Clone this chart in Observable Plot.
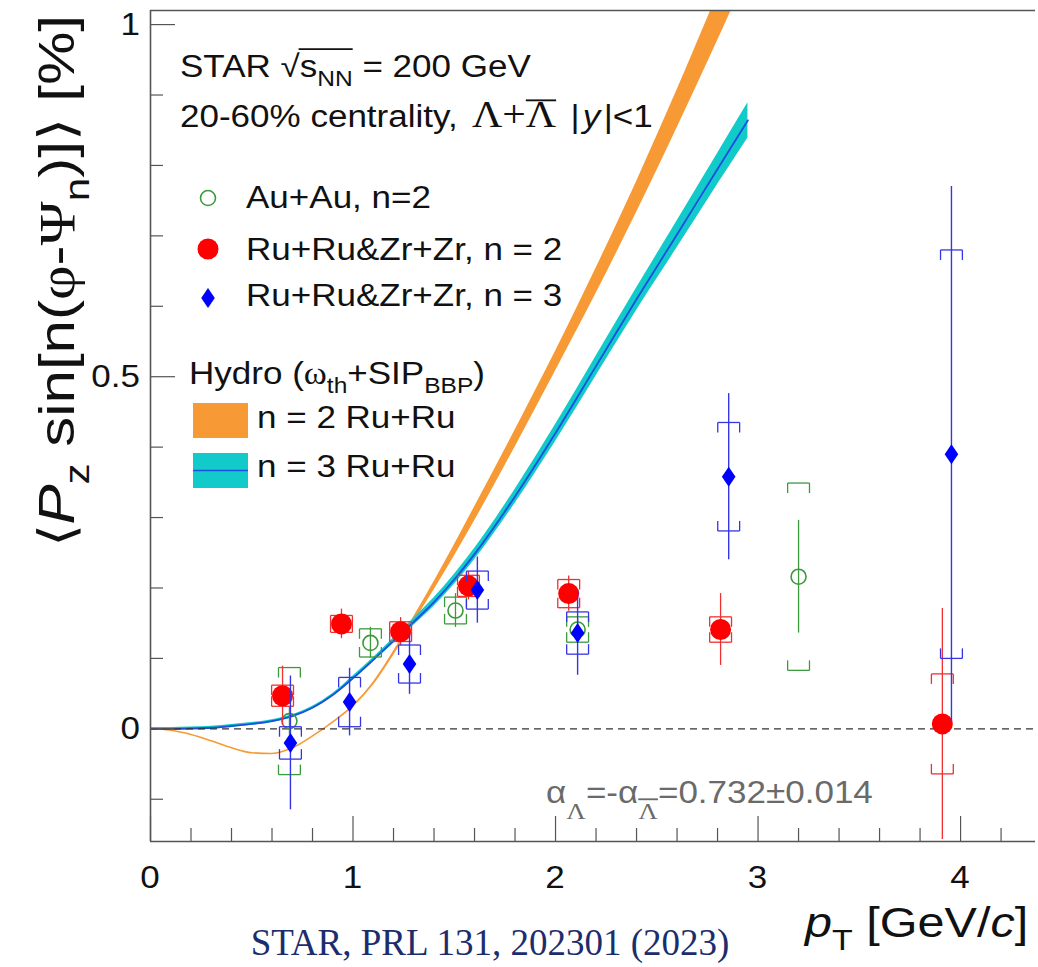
<!DOCTYPE html>
<html><head><meta charset="utf-8">
<script src="https://cdn.jsdelivr.net/npm/d3@7"></script>
<script src="https://cdn.jsdelivr.net/npm/@observablehq/plot@0.6"></script>
<style>html,body{margin:0;padding:0;background:#fff;} #chart{width:1038px;height:967px;}</style>
</head><body><div id="chart"></div>
<script>
// ---------------- data ----------------
// Au+Au, n=2 (open green circles)
const auX    = [0.686, 1.086, 1.506, 2.109, 3.200];
const auY    = [0.011, 0.122, 0.168, 0.141, 0.216];
const auStat = [0.020, 0.022, 0.024, 0.015, 0.080];
const auSys  = [0.076, 0.020, 0.019, 0.018, 0.133];
// Ru+Ru&Zr+Zr, n = 2 (red filled circles)
const rn2X    = [0.652, 0.943, 1.235, 1.570, 2.065, 2.815, 3.910];
const rn2Y    = [0.047, 0.149, 0.138, 0.203, 0.192, 0.141, 0.007];
const rn2Stat = [0.042, 0.021, 0.020, 0.020, 0.025, 0.051, 0.164];
const rn2Sys  = [0.015, 0.012, 0.014, 0.015, 0.020, 0.018, 0.071];
// Ru+Ru&Zr+Zr, n = 3 (blue diamonds)
const rn3X    = [0.691, 0.983, 1.279, 1.614, 2.109, 2.855, 3.955];
const rn3Y    = [-0.020, 0.038, 0.092, 0.197, 0.136, 0.358, 0.390];
const rn3Stat = [0.095, 0.048, 0.043, 0.047, 0.060, 0.118, 0.380];
const rn3Sys  = [0.023, 0.035, 0.027, 0.027, 0.030, 0.077, 0.290];
// Hydro (omega_th + SIP_BBP) curves
const hydroX   = [0, 0.1, 0.2, 0.3, 0.4, 0.5, 0.6, 0.7, 0.8, 0.9, 1.0, 1.1, 1.2, 1.3, 1.4, 1.5, 1.6, 1.8, 2.0, 2.2, 2.4, 2.6, 2.8, 2.95];
const hydro2Y  = [0, -0.002, -0.008, -0.017, -0.027, -0.034, -0.035, -0.027, -0.010, 0.010, 0.033, 0.065, 0.108, 0.155, 0.203, 0.253, 0.305, 0.412, 0.522, 0.636, 0.755, 0.880, 1.010, 1.110];
const hydro2Err= [0, 0, 0, 0, 0, 0, 0, 0, 0, 0, 0, 0.001, 0.002, 0.004, 0.006, 0.008, 0.010, 0.012, 0.014, 0.018, 0.022, 0.027, 0.033, 0.037];
const hydro3Y  = [0, 0, 0.0005, 0.0015, 0.004, 0.007, 0.011, 0.018, 0.030, 0.048, 0.072, 0.098, 0.125, 0.152, 0.180, 0.212, 0.248, 0.330, 0.420, 0.515, 0.610, 0.702, 0.795, 0.864];
const hydro3Err= [0.002, 0.002, 0.002, 0.002, 0.002, 0.002, 0.002, 0.002, 0.002, 0.002, 0.003, 0.003, 0.004, 0.005, 0.006, 0.007, 0.008, 0.010, 0.012, 0.014, 0.016, 0.019, 0.022, 0.025];
// axis ticks
const xMajor = [0, 1, 2, 3, 4];
const xMinor = d3.range(0, 4.3, 0.2).map(v => +v.toFixed(1)).filter(v => !xMajor.includes(v));
const yMajor = [0, 0.5, 1];
const yMinor = [-0.1, 0.1, 0.2, 0.3, 0.4, 0.6, 0.7, 0.8, 0.9];
const xTickLabels = ["0", "1", "2", "3", "4"];
const yTickLabels = ["0", "0.5", "1"];

// ---------------- tables ----------------
const rows = (X, Y, S, Sy) => X.map((x, i) => ({x, y: Y[i], s: S[i], sy: Sy[i]}));
const au = rows(auX, auY, auStat, auSys);
const rn2 = rows(rn2X, rn2Y, rn2Stat, rn2Sys);
const rn3 = rows(rn3X, rn3Y, rn3Stat, rn3Sys);
const h2 = hydroX.map((x, i) => ({x, y: hydro2Y[i], lo: hydro2Y[i] - hydro2Err[i], hi: hydro2Y[i] + hydro2Err[i]}));
const h3 = hydroX.map((x, i) => ({x, y: hydro3Y[i], lo: hydro3Y[i] - hydro3Err[i], hi: hydro3Y[i] + hydro3Err[i]}));

const HW = 0.054, TK = 0.0142;
function brackets(rs) {
  const out = [];
  for (const r of rs) {
    const top = r.y + r.sy, bot = r.y - r.sy, t = Math.min(TK, r.sy);
    out.push({x1: r.x - HW, x2: r.x + HW, y1: top, y2: top});
    out.push({x1: r.x - HW, x2: r.x - HW, y1: top, y2: top - t});
    out.push({x1: r.x + HW, x2: r.x + HW, y1: top, y2: top - t});
    out.push({x1: r.x - HW, x2: r.x + HW, y1: bot, y2: bot});
    out.push({x1: r.x - HW, x2: r.x - HW, y1: bot, y2: bot + t});
    out.push({x1: r.x + HW, x2: r.x + HW, y1: bot, y2: bot + t});
  }
  return out;
}

const tallDiamond = {draw(ctx, size) {
  const r = Math.sqrt(size / Math.PI), w = r * 0.68;
  ctx.moveTo(0, -r); ctx.lineTo(w, 0); ctx.lineTo(0, r); ctx.lineTo(-w, 0); ctx.closePath();
}};

const GREEN = "#3b9a3b", RED = "#ff0000", BLUE = "#0000ff", BLUEBAR = "#3535e6";
const ORANGE = "#f79a35", CYAN = "#12caca", BLUELINE = "#1a4fe0";
const AX = "#555";
const FRAME_H = 831, FRAME_W = 885;

const plot = Plot.plot({
  width: 1038, height: 967,
  marginLeft: 150, marginRight: 3, marginTop: 10, marginBottom: 126,
  x: {domain: [0, 4.37], axis: null},
  y: {domain: [-0.16, 1.02], axis: null},
  style: {background: "#fff", fontFamily: "Liberation Sans, Arial, sans-serif"},
  marks: [
    // hydro n=2
    Plot.areaY(h2, {x: "x", y1: "lo", y2: "hi", fill: ORANGE, curve: "monotone-x", clip: true}),
    Plot.line(h2, {x: "x", y: "y", stroke: ORANGE, strokeWidth: 1.6, curve: "monotone-x", clip: true}),
    // hydro n=3
    Plot.areaY(h3, {x: "x", y1: "lo", y2: "hi", fill: CYAN, curve: "monotone-x", clip: true}),
    Plot.line(h3, {x: "x", y: "y", stroke: BLUELINE, strokeWidth: 1.8, curve: "monotone-x", clip: true}),
    // zero line
    Plot.ruleY([0], {stroke: "#333", strokeWidth: 1.2, strokeDasharray: "7,5"}),
    // frame
    Plot.ruleX([0], {stroke: AX, strokeWidth: 1.6}),
    Plot.ruleY([-0.16], {stroke: AX, strokeWidth: 1.6}),
    Plot.ruleY([1.02], {stroke: AX, strokeWidth: 1.4}),
    // inward ticks
    Plot.ruleX(xMajor, {stroke: AX, strokeWidth: 1.2, insetTop: FRAME_H - 25}),
    Plot.ruleX(xMinor, {stroke: AX, strokeWidth: 1.2, insetTop: FRAME_H - 13}),
    Plot.ruleY(yMajor, {stroke: AX, strokeWidth: 1.2, insetRight: FRAME_W - 25}),
    Plot.ruleY(yMinor, {stroke: AX, strokeWidth: 1.2, insetRight: FRAME_W - 13}),
    // Au+Au
    Plot.link(brackets(au), {x1: "x1", x2: "x2", y1: "y1", y2: "y2", stroke: GREEN, strokeWidth: 1.3}),
    Plot.ruleX(au, {x: "x", y1: d => d.y - d.s, y2: d => d.y + d.s, stroke: GREEN, strokeWidth: 1.3}),
    Plot.dot(au, {x: "x", y: "y", r: 7.5, fill: "#fff", fillOpacity: 0, stroke: GREEN, strokeWidth: 1.6}),
    // Ru+Ru&Zr+Zr n=2
    Plot.link(brackets(rn2), {x1: "x1", x2: "x2", y1: "y1", y2: "y2", stroke: "#f03030", strokeWidth: 1.3}),
    Plot.ruleX(rn2, {x: "x", y1: d => d.y - d.s, y2: d => d.y + d.s, stroke: "#f03030", strokeWidth: 1.3}),
    Plot.dot(rn2, {x: "x", y: "y", r: 10.5, fill: RED, stroke: "none"}),
    // Ru+Ru&Zr+Zr n=3
    Plot.link(brackets(rn3), {x1: "x1", x2: "x2", y1: "y1", y2: "y2", stroke: BLUEBAR, strokeWidth: 1.3}),
    Plot.ruleX(rn3, {x: "x", y1: d => d.y - d.s, y2: d => d.y + d.s, stroke: BLUEBAR, strokeWidth: 1.4}),
    Plot.dot(rn3, {x: "x", y: "y", r: 10, symbol: tallDiamond, fill: BLUE, stroke: "none"})
  ]
});
document.getElementById("chart").appendChild(plot);

// ---------------- text & legend ----------------
const SANS = "Liberation Sans, Arial, Helvetica, sans-serif";
const SERIF = "Liberation Serif, Times New Roman, serif";
const SX = 1.13;
const svg = d3.select(plot);
const sx = plot.scale("x"), sy = plot.scale("y");

// parts: strings or {t, sub, shift, italic, serif, size, dx, bar:[yFactor, padLeft, join]}
function addText(parent, o, parts) {
  const size = o.size || 31, scaleX = o.sx || SX;
  const g = parent.append("g").attr("transform",
    `translate(${o.x},${o.y})${o.rotate ? ` rotate(${o.rotate})` : ""} scale(${scaleX},1)`);
  const t = g.append("text").attr("font-family", o.family || SANS).attr("font-size", size)
    .attr("fill", o.fill || "#111").attr("text-anchor", o.anchor || "start");
  let cur = 0, idx = 0; const bars = [];
  for (const p0 of parts) {
    const p = typeof p0 === "string" ? {t: p0} : p0;
    const target = p.sub ? size * (p.shift || 0.3) : 0;
    const ts = t.append("tspan").text(p.t);
    if (target !== cur) { ts.attr("dy", target - cur); cur = target; }
    if (p.dx) ts.attr("dx", p.dx);
    if (p.sub) ts.attr("font-size", size * 0.7);
    if (p.size) ts.attr("font-size", p.size);
    if (p.italic) ts.attr("font-style", "italic");
    if (p.serif) ts.attr("font-family", SERIF);
    if (p.bar) bars.push({i0: idx, i1: idx + p.t.length - 1, y: p.bar[0] * size, pad: p.bar[1] || 0, join: p.bar[2]});
    idx += p.t.length;
  }
  const node = t.node();
  const merged = [];
  for (const b of bars) {
    const last = merged[merged.length - 1];
    if (b.join && last) last.i1 = b.i1; else merged.push({...b});
  }
  for (const b of merged) {
    try {
      const a = node.getStartPositionOfChar(b.i0).x - b.pad, e = node.getEndPositionOfChar(b.i1).x;
      g.append("line").attr("x1", a).attr("x2", e).attr("y1", b.y).attr("y2", b.y)
        .attr("stroke", o.fill || "#111").attr("stroke-width", Math.max(1.5, size * 0.06));
    } catch (err) {}
  }
  return g;
}

// tick labels
xMajor.forEach((v, i) => addText(svg, {x: sx.apply(v), y: 888, anchor: "middle"}, [xTickLabels[i]]));
yMajor.forEach((v, i) => addText(svg, {x: 140, y: sy.apply(v) + 11, anchor: "end"}, [yTickLabels[i]]));

// axis titles
addText(svg, {x: 805, y: 937, size: 43}, [{t: "p", italic: true}, {t: "T", sub: true}, " [GeV/", {t: "c", italic: true}, "]"]);
addText(svg, {x: 74, y: 15, size: 50, sx: 1.2, rotate: -90, anchor: "end"},
  ["\u27E8", {t: "P", italic: true}, {t: "z", sub: true}, " sin[n(", {t: "\u03C6", serif: true}, "-", {t: "\u03A8", serif: true}, {t: "n", sub: true}, ")]\u27E9 [%]"]);

// header text
addText(svg, {x: 180, y: 77}, ["STAR ", "\u221A", {t: "s", bar: [-0.9, 1]}, {t: "NN", sub: true, bar: [-0.9, 0, true]}, " = 200 GeV"]);
addText(svg, {x: 180, y: 127}, ["20-60% centrality, ",
  {t: "\u039B", serif: true, size: 37, dx: 4}, {t: "+", serif: true, size: 37}, {t: "\u039B", serif: true, size: 37, bar: [-0.86]},
  {t: " |", dx: 4}, {t: "y", italic: true, dx: 3}, {t: "|<1", dx: 3}]);

// legend markers
svg.append("circle").attr("cx", 208).attr("cy", 198).attr("r", 7.5).attr("fill", "none").attr("stroke", GREEN).attr("stroke-width", 1.6);
svg.append("circle").attr("cx", 208).attr("cy", 249).attr("r", 10.5).attr("fill", RED);
svg.append("path").attr("d", "M208,288 L214.8,298 L208,308 L201.2,298 Z").attr("fill", BLUE);
addText(svg, {x: 246, y: 208}, ["Au+Au, n=2"]);
addText(svg, {x: 246, y: 260}, ["Ru+Ru&Zr+Zr, n = 2"]);
addText(svg, {x: 246, y: 306}, ["Ru+Ru&Zr+Zr, n = 3"]);
addText(svg, {x: 189, y: 384}, ["Hydro (", {t: "\u03C9", serif: true}, {t: "th", sub: true}, "+SIP", {t: "BBP", sub: true}, ")"]);
svg.append("rect").attr("x", 193).attr("y", 403).attr("width", 55).attr("height", 35).attr("fill", ORANGE);
svg.append("rect").attr("x", 193).attr("y", 453).attr("width", 55).attr("height", 35).attr("fill", CYAN);
svg.append("line").attr("x1", 193).attr("x2", 248).attr("y1", 470.5).attr("y2", 470.5).attr("stroke", BLUELINE).attr("stroke-width", 1.5);
addText(svg, {x: 257, y: 428}, ["n = 2 Ru+Ru"]);
addText(svg, {x: 257, y: 477}, ["n = 3 Ru+Ru"]);

// alpha annotation
addText(svg, {x: 546, y: 803, fill: "#6a6a6a"}, ["\u03B1", {t: "\u039B", sub: true, shift: 0.5, serif: true, size: 24}, "=-\u03B1",
  {t: "\u039B", sub: true, shift: 0.5, serif: true, size: 24, bar: [-0.12]}, "=0.732\u00B10.014"]);

// caption
addText(svg, {x: 490, y: 955, size: 37, sx: 1.0, family: SERIF, fill: "#1c2d6e", anchor: "middle"}, ["STAR, PRL 131, 202301 (2023)"]);
</script></body></html>
